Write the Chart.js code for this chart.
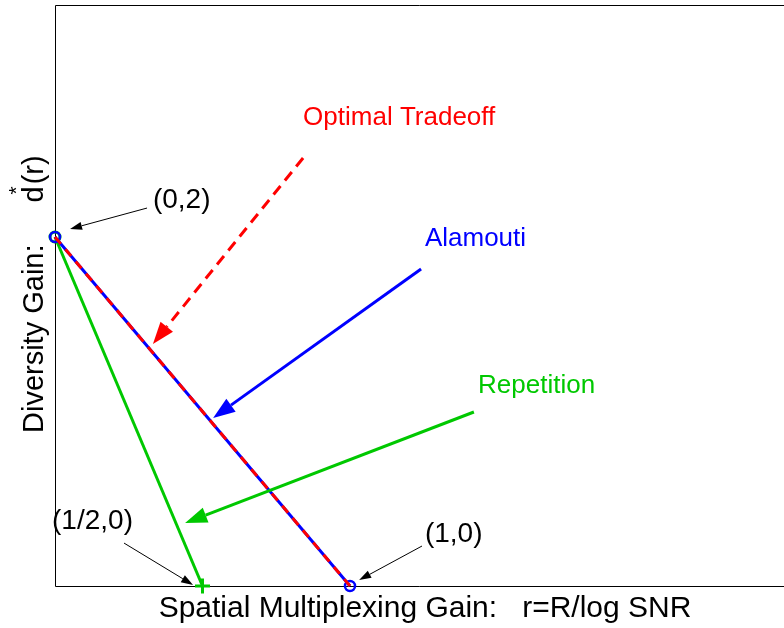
<!DOCTYPE html>
<html>
<head>
<meta charset="utf-8">
<script src="https://cdn.jsdelivr.net/npm/chart.js@4/dist/chart.umd.min.js"></script>
<style>
  html, body { margin: 0; padding: 0; background: #fff; overflow: hidden; }
  #wrap { width: 784px; height: 628px; }
</style>
</head>
<body>
<div id="wrap"><canvas id="tradeoff"></canvas></div>
<script>
// diversity-multiplexing tradeoff, 2x1 channel
const optimalR = [0, 1];
const optimalD = [2, 0];
const alamoutiR = [0, 1];
const alamoutiD = [2, 0];
const repetitionR = [0, 0.5];
const repetitionD = [2, 0];

const RED = "#ff0000";
const BLUE = "#0000ff";
const GREEN = "#00c800";
const FONT = "'Liberation Sans', Arial, Helvetica, sans-serif";

const toXY = (rs, ds) => rs.map((r, i) => ({ x: r, y: ds[i] }));

// labels with arrows, in data units
const notes = [
    { text: "Optimal Tradeoff", color: RED, size: 26, at: [0.841, 2.642],
      from: [0.841, 2.453], to: [0.332, 1.387], lw: 3, dash: [11, 7], head: 22, half: 8 },
    { text: "Alamouti", color: BLUE, size: 26, at: [1.254, 1.948],
      from: [1.241, 1.817], to: [0.536, 0.963], lw: 3, dash: [], head: 22, half: 8 },
    { text: "Repetition", color: GREEN, size: 26, at: [1.434, 1.106],
      from: [1.420, 0.997], to: [0.441, 0.361], lw: 3, dash: [], head: 22, half: 8 },
    { text: "(0,2)", color: "#000", size: 28, at: [0.332, 2.166],
      from: [0.312, 2.166], to: [0.051, 2.046], lw: 1, dash: [], head: 12, half: 4 },
    { text: "(1/2,0)", color: "#000", size: 28, at: [-0.010, 0.327],
      from: [0.234, 0.246], to: [0.468, 0.006], lw: 1, dash: [], head: 12, half: 4 },
    { text: "(1,0)", color: "#000", size: 28, at: [1.254, 0.252],
      from: [1.244, 0.229], to: [1.031, 0.034], lw: 1, dash: [], head: 12, half: 4 }
];

function arrow(ctx, x0, y0, x1, y1, n) {
    const ang = Math.atan2(y1 - y0, x1 - x0);
    const bx = x1 - n.head * Math.cos(ang);
    const by = y1 - n.head * Math.sin(ang);
    ctx.strokeStyle = n.color;
    ctx.fillStyle = n.color;
    ctx.lineWidth = n.lw;
    ctx.setLineDash(n.dash);
    ctx.beginPath();
    ctx.moveTo(x0, y0);
    ctx.lineTo(bx, by);
    ctx.stroke();
    ctx.setLineDash([]);
    ctx.beginPath();
    ctx.moveTo(x1, y1);
    ctx.lineTo(bx + n.half * Math.sin(ang), by - n.half * Math.cos(ang));
    ctx.lineTo(bx - n.half * Math.sin(ang), by + n.half * Math.cos(ang));
    ctx.closePath();
    ctx.fill();
}

const frameAndNotes = {
    id: "frameAndNotes",
    beforeDatasetsDraw(chart) {
        const { ctx, chartArea: a } = chart;
        ctx.save();
        ctx.strokeStyle = "#000";
        ctx.lineWidth = 1;
        ctx.beginPath();
        ctx.moveTo(a.right, a.top + 0.5);
        ctx.lineTo(a.left + 0.5, a.top + 0.5);
        ctx.lineTo(a.left + 0.5, a.bottom + 0.5);
        ctx.lineTo(a.right, a.bottom + 0.5);
        ctx.stroke();

        // axis titles
        ctx.fillStyle = "#000";
        ctx.font = `30px ${FONT}`;
        ctx.textBaseline = "alphabetic";
        ctx.textAlign = "center";
        ctx.fillText("Spatial Multiplexing Gain:   r=R/log SNR", a.left + 370, a.bottom + 31);

        ctx.translate(a.left - 12, a.bottom - 153);
        ctx.rotate(-Math.PI / 2);
        ctx.textAlign = "left";
        ctx.font = `29px ${FONT}`;
        const head = "Diversity Gain:";
        ctx.fillText(head, 0, 0);
        const pos = ctx.measureText(head).width + 42;
        ctx.fillText("d", pos, 0);
        const dw = ctx.measureText("d").width;
        ctx.font = `21px ${FONT}`;
        ctx.fillText("*", pos + 8, -20);
        ctx.font = `29px ${FONT}`;
        ctx.fillText("(r)", pos + dw + 2, 0);
        ctx.restore();
    },
    afterDatasetsDraw(chart) {
        const { ctx, scales: { x, y } } = chart;
        ctx.save();
        notes.forEach(n => {
            arrow(ctx,
                x.getPixelForValue(n.from[0]), y.getPixelForValue(n.from[1]),
                x.getPixelForValue(n.to[0]), y.getPixelForValue(n.to[1]), n);
            ctx.font = `${n.size}px ${FONT}`;
            ctx.fillStyle = n.color;
            ctx.textAlign = "left";
            ctx.textBaseline = "alphabetic";
            ctx.fillText(n.text, x.getPixelForValue(n.at[0]), y.getPixelForValue(n.at[1]));
        });
        ctx.restore();
    }
};

new Chart(document.getElementById("tradeoff"), {
    type: "line",
    plugins: [frameAndNotes],
    data: {
        datasets: [
            {
                label: "Optimal Tradeoff",
                data: toXY(optimalR, optimalD),
                borderColor: RED,
                borderWidth: 3,
                borderDash: [9, 7],
                pointRadius: 0,
                clip: false,
                order: 1
            },
            {
                label: "Alamouti",
                data: toXY(alamoutiR, alamoutiD),
                borderColor: BLUE,
                borderWidth: 3,
                pointStyle: "circle",
                pointRadius: 5,
                pointBorderWidth: 2.5,
                pointBorderColor: BLUE,
                pointBackgroundColor: "rgba(0,0,0,0)",
                clip: false,
                order: 2
            },
            {
                label: "Repetition",
                data: toXY(repetitionR, repetitionD),
                borderColor: GREEN,
                borderWidth: 3,
                pointStyle: ["circle", "cross"],
                pointRadius: [5, 7.5],
                pointBorderWidth: 3,
                pointBorderColor: GREEN,
                pointBackgroundColor: "rgba(0,0,0,0)",
                clip: false,
                order: 3
            }
        ]
    },
    options: {
        responsive: true,
        maintainAspectRatio: false,
        animation: false,
        layout: { autoPadding: false, padding: { left: 55, top: 5, right: 0, bottom: 42 } },
        plugins: {
            legend: { display: false },
            tooltip: { enabled: false }
        },
        scales: {
            x: { type: "linear", min: 0, max: 2.4712, display: false },
            y: { type: "linear", min: 0, max: 3.3295, display: false }
        }
    }
});
</script>
</body>
</html>
